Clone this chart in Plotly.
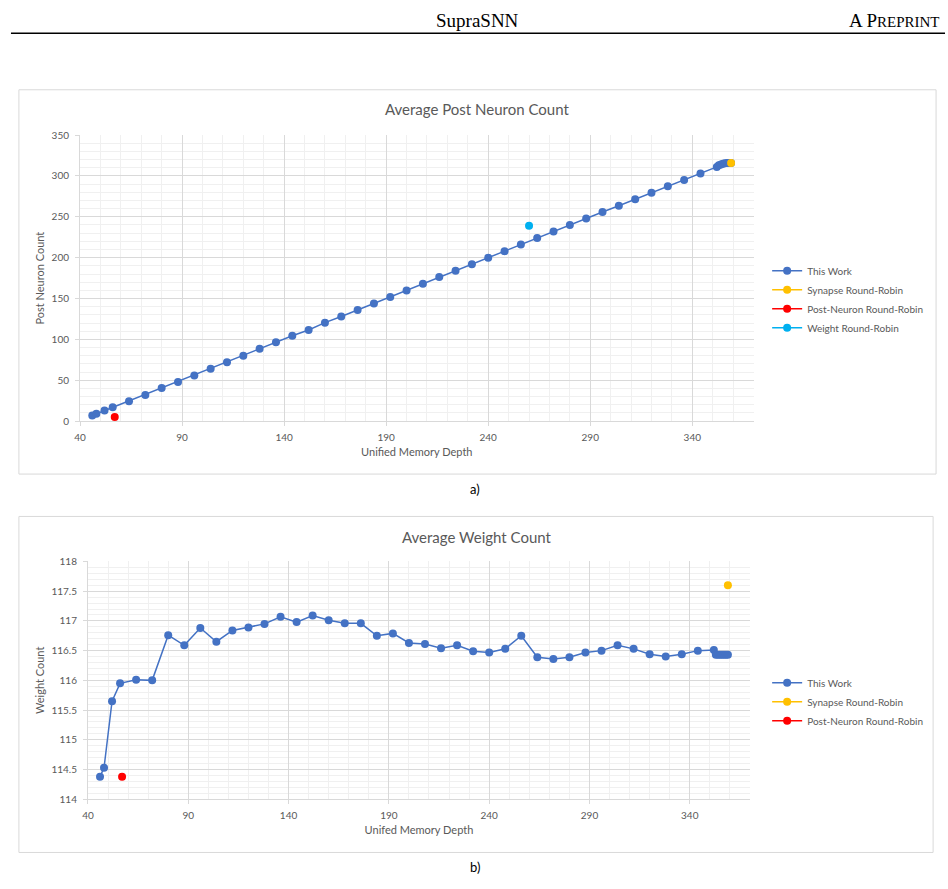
import plotly.graph_objects as go

# ---------------- data ----------------
memory_depth = [46, 48, 52, 56, 64, 72, 80, 88, 96, 104, 112, 120, 128, 136, 144, 152,
                160, 168, 176, 184, 192, 200, 208, 216, 224, 232, 240, 248, 256, 264,
                272, 280, 288, 296, 304, 312, 320, 328, 336, 344, 352, 353, 354, 355,
                356, 357, 358, 359]
post_neuron_work = [7, 9, 13, 17, 24.5, 32, 40.5, 48, 56, 64, 72, 80, 88.5, 96.5, 104.5, 111.5,
                    120.5, 128, 136, 144, 152, 160, 168, 176.5, 184, 192, 200, 208, 216, 224,
                    232, 240, 248, 256, 263.5, 271.5, 279.5, 287.5, 295, 303, 311, 313, 314, 315,
                    315.5, 316, 316, 316]
weight_work = [114.38, 114.53, 115.65, 115.95, 116.01, 116.0, 116.76, 116.59, 116.88, 116.65,
               116.84, 116.89, 116.95, 117.07, 116.98, 117.09, 117.01, 116.96, 116.96, 116.75,
               116.79, 116.63, 116.61, 116.54, 116.59, 116.49, 116.47, 116.53, 116.75, 116.39,
               116.36, 116.39, 116.47, 116.50, 116.59, 116.53, 116.44, 116.40, 116.44, 116.50,
               116.51, 116.43, 116.43, 116.43, 116.43, 116.43, 116.43, 116.43]

synapse_rr_x = [359]
synapse_rr_post = [316]
synapse_rr_weight = [117.6]
postneuron_rr_x = [57]
postneuron_rr_post = [5]
postneuron_rr_weight = [114.38]
weight_rr_x = [260]
weight_rr_post = [239]

# ---------------- style ----------------
W, H = 948, 889
FONT = "Lato"
GRAY = "#595959"
BLUE = "#4472C4"
YELLOW = "#FFC000"
RED = "#FF0000"
CYAN = "#00B0F0"
GRID = "#d9d9d9"
MINOR = "#f0f0f0"


def px(x):
    return x / W


def py(y):
    return 1 - y / H


fig = go.Figure()

def add(x, y, name, color, xa, ya, legend, group):
    fig.add_trace(go.Scatter(
        x=x, y=y, name=name, mode="lines+markers",
        line=dict(color=color, width=1.5),
        marker=dict(color=color, size=8),
        xaxis=xa, yaxis=ya, legend=legend, legendgroup=group,
        hoverinfo="x+y"))

# chart a
add(memory_depth, post_neuron_work, "This Work", BLUE, "x", "y", "legend", "a1")
add(synapse_rr_x, synapse_rr_post, "Synapse Round-Robin", YELLOW, "x", "y", "legend", "a2")
add(postneuron_rr_x, postneuron_rr_post, "Post-Neuron Round-Robin", RED, "x", "y", "legend", "a3")
add(weight_rr_x, weight_rr_post, "Weight Round-Robin", CYAN, "x", "y", "legend", "a4")
# chart b
add(memory_depth, weight_work, "This Work", BLUE, "x2", "y2", "legend2", "b1")
add(synapse_rr_x, synapse_rr_weight, "Synapse Round-Robin", YELLOW, "x2", "y2", "legend2", "b2")
add(postneuron_rr_x, postneuron_rr_weight, "Post-Neuron Round-Robin", RED, "x2", "y2", "legend2", "b3")

tickfont = dict(family=FONT, size=10, color=GRAY)
titlefont = dict(family=FONT, size=11, color=GRAY)

def xaxis(domain, anchor, title):
    return dict(domain=domain, anchor=anchor, range=[40, 370], tick0=40, dtick=50,
                showgrid=True, gridcolor=GRID, gridwidth=1,
                minor=dict(tick0=40, dtick=10, showgrid=True, gridcolor=MINOR, gridwidth=1),
                showline=True, linecolor=GRID, linewidth=1,
                ticks="outside", ticklen=4, tickcolor=GRID, ticklabelstandoff=3,
                zeroline=False, tickfont=tickfont,
                title=dict(text=title, font=titlefont, standoff=6))

def yaxis(domain, anchor, rng, dtick, mdtick, title):
    return dict(domain=domain, anchor=anchor, range=rng, dtick=dtick, tick0=rng[0],
                showgrid=True, gridcolor=GRID, gridwidth=1,
                minor=dict(tick0=rng[0], dtick=mdtick, showgrid=True, gridcolor=MINOR, gridwidth=1),
                showline=True, linecolor=GRID, linewidth=1,
                ticks="outside", ticklen=4, tickcolor=GRID, ticklabelstandoff=4,
                zeroline=False, tickfont=tickfont,
                title=dict(text=title, font=titlefont, standoff=4))

legend_font = dict(family=FONT, size=10, color=GRAY)

fig.update_layout(
    width=W, height=H, margin=dict(l=0, r=0, t=0, b=0),
    paper_bgcolor="white", plot_bgcolor="white",
    font=dict(family=FONT, color=GRAY),
    xaxis=xaxis([px(74.5), px(752.3)], "y", "Unified Memory Depth"),
    yaxis=yaxis([py(420.3), py(130)], "x", [0, 350], 50, 10, "Post Neuron Count"),
    xaxis2=xaxis([px(82.5), px(748.7)], "y2", "Unifed Memory Depth"),
    yaxis2=yaxis([py(804), py(562.7)], "x2", [114, 118], 0.5, 0.1, "Weight Count"),
    legend=dict(x=px(766), y=py(253), xanchor="left", yanchor="top", traceorder="normal",
                tracegroupgap=1, font=legend_font, itemwidth=30, bgcolor="rgba(0,0,0,0)"),
    legend2=dict(x=px(766), y=py(671), xanchor="left", yanchor="top", traceorder="normal",
                 tracegroupgap=1, font=legend_font, itemwidth=30, bgcolor="rgba(0,0,0,0)"),
    showlegend=True,
)

# chart frames
fig.add_shape(type="rect", xref="paper", yref="paper",
              x0=px(13), x1=px(936), y0=py(474), y1=py(84),
              line=dict(color=GRID, width=1), layer="below")
fig.add_shape(type="rect", xref="paper", yref="paper",
              x0=px(13), x1=px(933), y0=py(858), y1=py(517),
              line=dict(color=GRID, width=1), layer="below")
# header rule
fig.add_shape(type="line", xref="paper", yref="paper",
              x0=px(5), x1=px(945), y0=py(26.7), y1=py(26.7),
              line=dict(color="black", width=1.5))

ann = [
    dict(text="SupraSNN", x=px(475), y=py(14), font=dict(family="Liberation Serif", size=19, color="black")),
    dict(text="A P<span style='font-size:15px'>REPRINT</span>", x=px(942), y=py(14), xanchor="right",
         font=dict(family="Liberation Serif", size=19, color="black")),
    dict(text="Average Post Neuron Count", x=px(474.5), y=py(104), font=dict(family=FONT, size=15, color=GRAY)),
    dict(text="Average Weight Count", x=px(474), y=py(538), font=dict(family=FONT, size=15, color=GRAY)),
    dict(text="a)", x=px(472), y=py(489), font=dict(family=FONT, size=13, color="black")),
    dict(text="b)", x=px(472), y=py(873), font=dict(family=FONT, size=13, color="black")),
]
for a in ann:
    a.setdefault("xanchor", "center")
    fig.add_annotation(xref="paper", yref="paper", yanchor="middle", showarrow=False, **a)

fig.write_html("out.html")
